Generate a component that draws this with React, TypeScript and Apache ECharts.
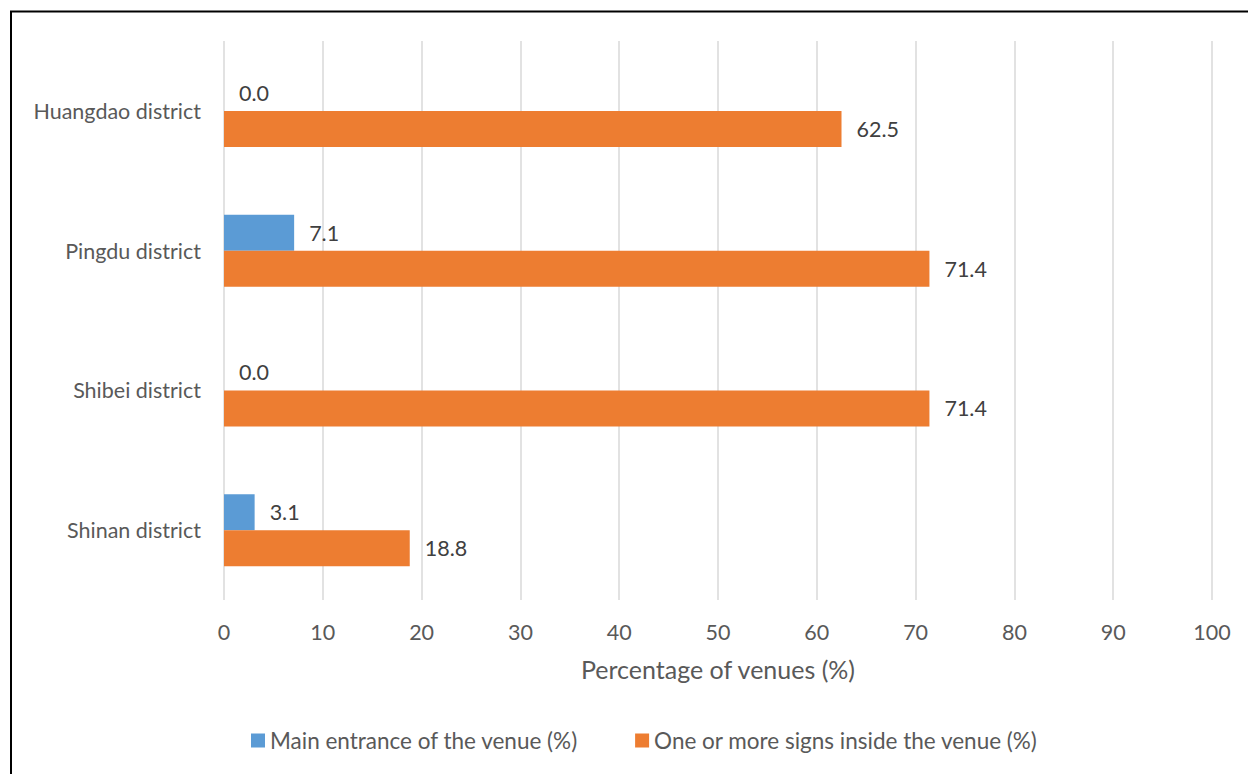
import React, { useEffect, useRef } from "react";
import * as echarts from "echarts";

const categories = ["Huangdao district", "Pingdu district", "Shibei district", "Shinan district"];
const mainEntrance = [0.0, 7.1, 0.0, 3.1];
const signsInside = [62.5, 71.4, 71.4, 18.8];
const seriesNames = ["Main entrance of the venue (%)", "One or more signs inside the venue (%)"];
const axisTitle = "Percentage of venues (%)";

const FONT = "Lato, 'Open Sans', sans-serif";

export default function App() {
  const ref = useRef<HTMLDivElement>(null);
  useEffect(() => {
    if (!ref.current) return;
    const chart = echarts.init(ref.current, undefined, { renderer: "svg" });
    const label = {
      show: true,
      position: "right" as const,
      distance: 15,
      color: "#404040",
      fontSize: 21.5,
      fontFamily: FONT,
      formatter: (p: any) => Number(p.value).toFixed(1),
    };
    chart.setOption({
      animation: false,
      backgroundColor: "#ffffff",
      textStyle: { fontFamily: FONT },
      grid: { left: 224, right: 36, top: 41, bottom: 174, containLabel: false },
      xAxis: {
        type: "value",
        min: 0,
        max: 100,
        interval: 10,
        name: axisTitle,
        nameLocation: "middle",
        nameGap: 56,
        nameTextStyle: { color: "#595959", fontSize: 25, fontFamily: FONT },
        axisLine: { show: false },
        axisTick: { show: false },
        axisLabel: { color: "#595959", fontSize: 21.5, fontFamily: FONT, margin: 21 },
        splitLine: { show: true, lineStyle: { color: "#d9d9d9", width: 1.5 } },
      },
      yAxis: {
        type: "category",
        data: categories,
        inverse: true,
        axisLine: { show: false },
        axisTick: { show: false },
        axisLabel: { color: "#595959", fontSize: 21.5, fontFamily: FONT, margin: 23 },
        splitLine: { show: false },
      },
      legend: {
        bottom: 17,
        left: 246,
        itemWidth: 14,
        itemHeight: 14,
        itemGap: 57,
        icon: "rect",
        textStyle: { color: "#595959", fontSize: 22.5, fontFamily: FONT },
        data: seriesNames,
      },
      series: [
        {
          name: seriesNames[0],
          type: "bar",
          data: mainEntrance,
          barWidth: 36,
          barGap: "0%",
          itemStyle: { color: "#5b9bd5" },
          label,
        },
        {
          name: seriesNames[1],
          type: "bar",
          data: signsInside,
          barWidth: 36,
          barGap: "0%",
          itemStyle: { color: "#ed7d31" },
          label,
        },
      ],
      graphic: [
        {
          type: "rect",
          shape: { x: 11, y: 11.5, width: 1400, height: 1000 },
          style: { fill: "none", stroke: "#000000", lineWidth: 2 },
          silent: true,
        },
      ],
    });
    return () => chart.dispose();
  }, []);
  return (
    <div
      ref={ref}
      style={{ position: "absolute", left: 0, top: 0, width: 1248, height: 774 }}
    />
  );
}
